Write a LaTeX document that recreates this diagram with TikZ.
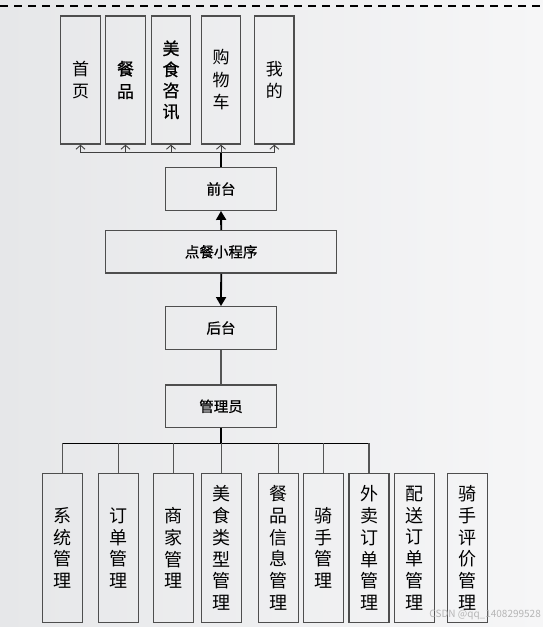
\documentclass[tikz,border=0pt]{standalone}
\usepackage{fontspec}
\setmainfont{Noto Sans CJK SC}
\newfontfamily\cjkb[FakeBold=0.8]{Noto Sans CJK SC}
\usetikzlibrary{arrows.meta}
\definecolor{bgL}{HTML}{E6E7E9}
\definecolor{bgR}{HTML}{F6F6F7}
\definecolor{boxline}{HTML}{4E4E4E}
\definecolor{linkgray}{HTML}{555555}
\tikzset{
  anybox/.style={draw=boxline, line width=1.3pt, inner sep=0pt, align=center, text=black},
  topbox/.style={anybox, minimum width=39.5pt, minimum height=128pt, font=\fontsize{17}{22.5}\selectfont},
  midbox/.style={anybox, minimum height=42.6pt, font=\cjkb\fontsize{14.5}{17}\selectfont},
  botbox/.style={anybox, minimum width=40pt, minimum height=149.4pt, font=\fontsize{18}{21.7}\selectfont},
  uparrow/.style={draw=black!75, line width=0.9pt, -{Straight Barb[length=4pt,width=9pt,line width=0.9pt]}},
  bigarrow/.style={draw=black, line width=1.8pt, -{Triangle[length=9pt,width=10pt]}},
  drop/.style={draw=linkgray, line width=1.2pt},
}
\begin{document}
\begin{tikzpicture}[x=1pt,y=-1pt]
\shade[left color=bgL, right color=bgR] (0,0) rectangle (543,627);
\useasboundingbox (0,0) rectangle (543,627);
\draw[black, line width=2pt, dash pattern=on 8pt off 6pt] (0,5.5) -- (543,5.5);

% top boxes
\node[topbox] (sy) at (80.5,80) {首\\页};
\node[topbox, font=\cjkb\fontsize{17}{22.5}\selectfont] (cp) at (125.5,80) {餐\\品};
\node[topbox, font=\cjkb\fontsize{17}{21}\selectfont] (ms) at (171,80) {美\\食\\咨\\讯};
\node[topbox] (gw) at (221,80) {购\\物\\车};
\node[topbox] (wd) at (274.3,80) {我\\的};

% middle boxes
\node[midbox, minimum width=111pt] (qt) at (221,189) {前台};
\node[midbox, minimum width=231pt] (xcx) at (221.2,251.8) {点餐小程序};
\node[midbox, minimum width=111pt] (ht) at (221,328) {后台};
\node[midbox, minimum width=111pt] (gly) at (221,406.3) {管理员};

% bottom boxes
\node[botbox] (b1) at (62.3,548) {系\\统\\管\\理};
\node[botbox] (b2) at (118.3,548) {订\\单\\管\\理};
\node[botbox] (b3) at (173.5,548) {商\\家\\管\\理};
\node[botbox] (b4) at (221.2,548) {美\\食\\类\\型\\管\\理};
\node[botbox] (b5) at (278.3,548) {餐\\品\\信\\息\\管\\理};
\node[botbox] (b6) at (323.5,548) {骑\\手\\管\\理};
\node[botbox] (b7) at (369,548) {外\\卖\\订\\单\\管\\理};
\node[botbox] (b8) at (414.3,548) {配\\送\\订\\单\\管\\理};
\node[botbox] (b9) at (467.3,548) {骑\\手\\评\\价\\管\\理};

% top connectors
\coordinate (tb) at (221,152.3);
\draw[black, line width=1.6pt] (qt.north) -- (tb);
\foreach \n in {sy,cp,ms,gw,wd} \draw[uparrow] (tb) -| (\n.south);

% middle arrows
\draw[bigarrow] (xcx.north) -- (qt.south);
\draw[bigarrow] (xcx.south) -- (ht.north);
\draw[drop] (ht.south) -- (gly.north);

% bottom connectors
\coordinate (bb) at (221,443.3);
\draw[black, line width=1.6pt] (gly.south) -- (bb);
\draw[black, line width=1.2pt] (bb -| b1.north) -- (bb -| b7.north);
\foreach \n in {b1,b2,b3,b4,b5,b6,b7} \draw[drop] (bb -| \n.north) -- (\n.north);

% watermark
\node[anchor=east, inner sep=0pt, text=black!35, opacity=0.8, font=\fontsize{10}{12}\selectfont] (wm) at (541,615) {CSDN @qq\_1408299528};
\end{tikzpicture}
\end{document}
